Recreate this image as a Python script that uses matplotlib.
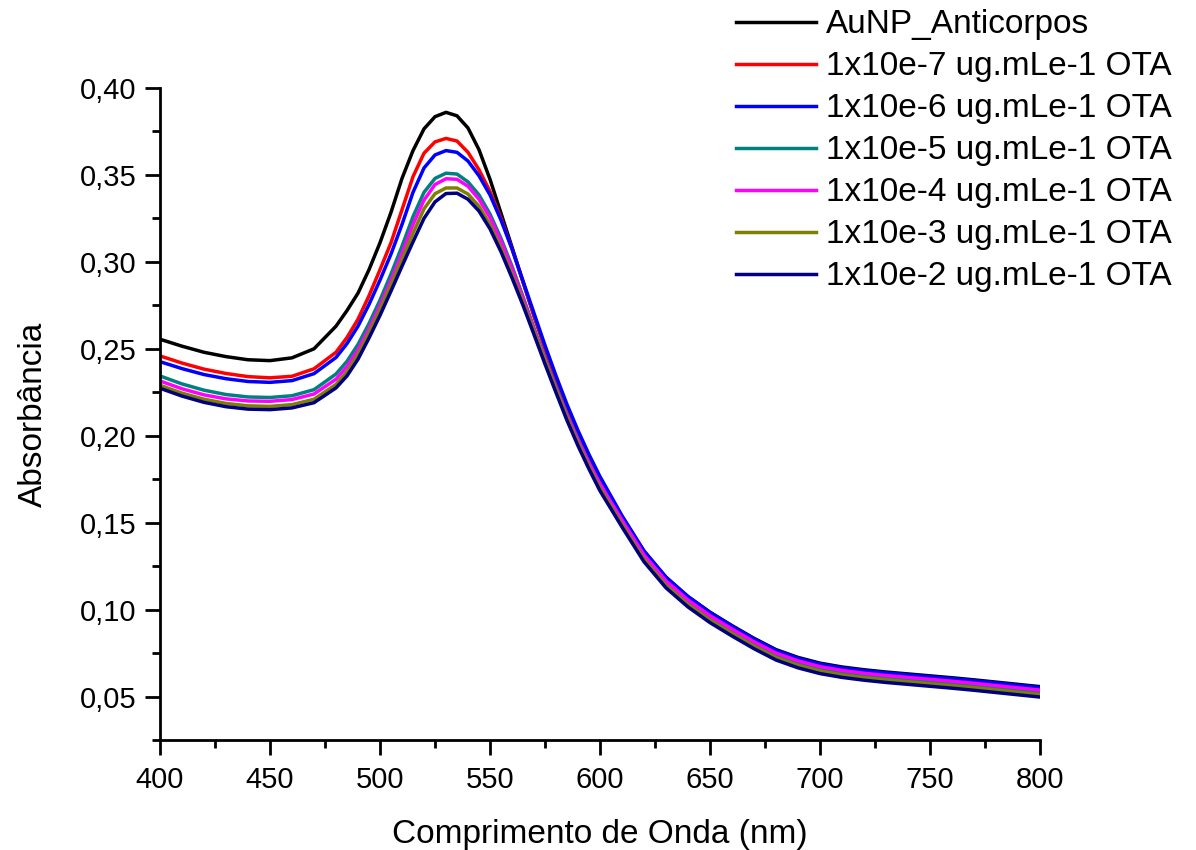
import numpy as np
import matplotlib
matplotlib.use("Agg")
import matplotlib.pyplot as plt
from matplotlib.ticker import MultipleLocator, FuncFormatter

plt.rcParams['font.family'] = ['Liberation Sans', 'DejaVu Sans']

# wavelength (nm)
wl = [400, 410, 420, 430, 440, 450, 460, 470,
      480, 485, 490, 495, 500, 505, 510, 515, 520, 525, 530, 535, 540, 545, 550,
      555, 560, 565, 570, 575, 580, 585, 590, 595, 600,
      610, 620, 630, 640, 650, 660, 670, 680, 690, 700, 710, 720, 730, 740,
      750, 760, 770, 780, 790, 800]

aunp = [0.2555, 0.2515, 0.2480, 0.2455, 0.2437, 0.2432, 0.2448, 0.2500,
        0.2630, 0.2720, 0.2820, 0.2955, 0.3110, 0.3285, 0.3480, 0.3640, 0.3765, 0.3835, 0.3860, 0.3840, 0.3770, 0.3645, 0.3475,
        0.3280, 0.3085, 0.2885, 0.2690, 0.2505, 0.2325, 0.2160, 0.2010, 0.1870, 0.1745,
        0.1535, 0.1335, 0.1185, 0.1075, 0.0985, 0.0908, 0.0835, 0.0770, 0.0725, 0.0692, 0.0670, 0.0654, 0.0641, 0.0630,
        0.0619, 0.0608, 0.0596, 0.0583, 0.0570, 0.0557]

ota_e7 = [0.2459, 0.2418, 0.2383, 0.2358, 0.2340, 0.2333, 0.2342, 0.2385,
          0.2480, 0.2565, 0.2670, 0.2805, 0.2955, 0.3110, 0.3300, 0.3490, 0.3625, 0.3690, 0.3710, 0.3695, 0.3630, 0.3530, 0.3405,
          0.3250, 0.3075, 0.2885, 0.2690, 0.2505, 0.2330, 0.2165, 0.2015, 0.1878, 0.1750,
          0.1525, 0.1323, 0.1173, 0.1063, 0.0973, 0.0896, 0.0823, 0.0758, 0.0713, 0.0680, 0.0658, 0.0642, 0.0629, 0.0618,
          0.0607, 0.0596, 0.0584, 0.0571, 0.0558, 0.0545]

ota_e6 = [0.2426, 0.2386, 0.2352, 0.2328, 0.2312, 0.2307, 0.2317, 0.2357,
          0.2450, 0.2530, 0.2630, 0.2755, 0.2895, 0.3045, 0.3215, 0.3400, 0.3540, 0.3615, 0.3640, 0.3630, 0.3580, 0.3495, 0.3385,
          0.3240, 0.3075, 0.2890, 0.2705, 0.2520, 0.2345, 0.2180, 0.2030, 0.1892, 0.1765,
          0.1540, 0.1338, 0.1187, 0.1075, 0.0984, 0.0905, 0.0831, 0.0766, 0.0720, 0.0687, 0.0665, 0.0649, 0.0636, 0.0625,
          0.0614, 0.0603, 0.0591, 0.0578, 0.0565, 0.0552]

ota_e5 = [0.2344, 0.2298, 0.2262, 0.2237, 0.2223, 0.2220, 0.2230, 0.2265,
          0.2355, 0.2428, 0.2525, 0.2645, 0.2780, 0.2930, 0.3090, 0.3260, 0.3400, 0.3480, 0.3510, 0.3505, 0.3460, 0.3385, 0.3275,
          0.3135, 0.2975, 0.2800, 0.2620, 0.2445, 0.2280, 0.2122, 0.1978, 0.1843, 0.1718,
          0.1505, 0.1305, 0.1155, 0.1045, 0.0955, 0.0878, 0.0805, 0.0740, 0.0695, 0.0662, 0.0640, 0.0624, 0.0611, 0.0600,
          0.0589, 0.0578, 0.0566, 0.0553, 0.0540, 0.0527]

ota_e4 = [0.2315, 0.2270, 0.2235, 0.2212, 0.2200, 0.2198, 0.2208, 0.2240,
          0.2325, 0.2398, 0.2495, 0.2615, 0.2750, 0.2895, 0.3050, 0.3215, 0.3355, 0.3445, 0.3478, 0.3475, 0.3435, 0.3360, 0.3255,
          0.3118, 0.2962, 0.2790, 0.2612, 0.2438, 0.2272, 0.2117, 0.1973, 0.1840, 0.1722,
          0.1515, 0.1315, 0.1165, 0.1055, 0.0965, 0.0888, 0.0815, 0.0750, 0.0705, 0.0672, 0.0650, 0.0634, 0.0621, 0.0610,
          0.0599, 0.0588, 0.0576, 0.0563, 0.0550, 0.0537]

ota_e3 = [0.2290, 0.2245, 0.2210, 0.2186, 0.2172, 0.2169, 0.2179, 0.2210,
          0.2295, 0.2368, 0.2468, 0.2592, 0.2725, 0.2868, 0.3015, 0.3165, 0.3305, 0.3392, 0.3425, 0.3425, 0.3390, 0.3320, 0.3215,
          0.3080, 0.2928, 0.2768, 0.2600, 0.2430, 0.2265, 0.2105, 0.1958, 0.1822, 0.1700,
          0.1490, 0.1290, 0.1140, 0.1030, 0.0940, 0.0863, 0.0790, 0.0725, 0.0680, 0.0647, 0.0625, 0.0609, 0.0596, 0.0585,
          0.0574, 0.0563, 0.0551, 0.0538, 0.0525, 0.0512]

ota_e2 = [0.2273, 0.2228, 0.2192, 0.2167, 0.2153, 0.2150, 0.2160, 0.2190,
          0.2275, 0.2344, 0.2440, 0.2562, 0.2692, 0.2832, 0.2975, 0.3115, 0.3250, 0.3345, 0.3393, 0.3395, 0.3360, 0.3292, 0.3190,
          0.3058, 0.2908, 0.2750, 0.2582, 0.2412, 0.2248, 0.2088, 0.1942, 0.1808, 0.1683,
          0.1475, 0.1275, 0.1125, 0.1015, 0.0925, 0.0848, 0.0775, 0.0710, 0.0665, 0.0632, 0.0610, 0.0594, 0.0581, 0.0570,
          0.0559, 0.0548, 0.0536, 0.0523, 0.0510, 0.0497]

labels = ['AuNP_Anticorpos',
          '1x10e-7 ug.mLe-1 OTA',
          '1x10e-6 ug.mLe-1 OTA',
          '1x10e-5 ug.mLe-1 OTA',
          '1x10e-4 ug.mLe-1 OTA',
          '1x10e-3 ug.mLe-1 OTA',
          '1x10e-2 ug.mLe-1 OTA']
series = [aunp, ota_e7, ota_e6, ota_e5, ota_e4, ota_e3, ota_e2]
colors = ['#000000', '#FF0000', '#0000FF', '#008080', '#FF00FF', '#808000', '#000080']

#-----------------------------------------
fig = plt.figure(figsize=(11.96, 8.5), dpi=100)
ax = fig.add_axes([160/1196, 110/850, 880/1196, 652/850])

for y, c, lab in zip(series, colors, labels):
    ax.plot(wl, y, color=c, lw=2.5, label=lab)

ax.set_xlim(400, 800)
ax.set_ylim(0.025, 0.40)
ax.spines['top'].set_visible(False)
ax.spines['right'].set_visible(False)
ax.spines['left'].set_linewidth(2)
ax.spines['bottom'].set_linewidth(2)

ax.xaxis.set_major_locator(MultipleLocator(50))
ax.xaxis.set_minor_locator(MultipleLocator(25))
ax.yaxis.set_major_locator(MultipleLocator(0.05))
ax.yaxis.set_minor_locator(MultipleLocator(0.025))
ax.yaxis.set_major_formatter(FuncFormatter(lambda v, p: ('%.2f' % v).replace('.', ',')))
ax.tick_params(which='major', direction='out', length=11, width=2, labelsize=21, pad=6)
ax.tick_params(which='minor', direction='out', length=6, width=2)
ax.tick_params(axis='x', which='major', pad=8)

ax.set_xlabel('Comprimento de Onda (nm)', fontsize=24, labelpad=18)
ax.set_ylabel('Absorbância', fontsize=24, labelpad=22)

fig.legend(loc='upper left', bbox_to_anchor=(733/1196, 1 - 6/850), frameon=False,
           fontsize=24, handlelength=2.4, handletextpad=0.3, labelspacing=0.33,
           borderpad=0.1, borderaxespad=0)

fig.savefig('out.png', dpi=100)
